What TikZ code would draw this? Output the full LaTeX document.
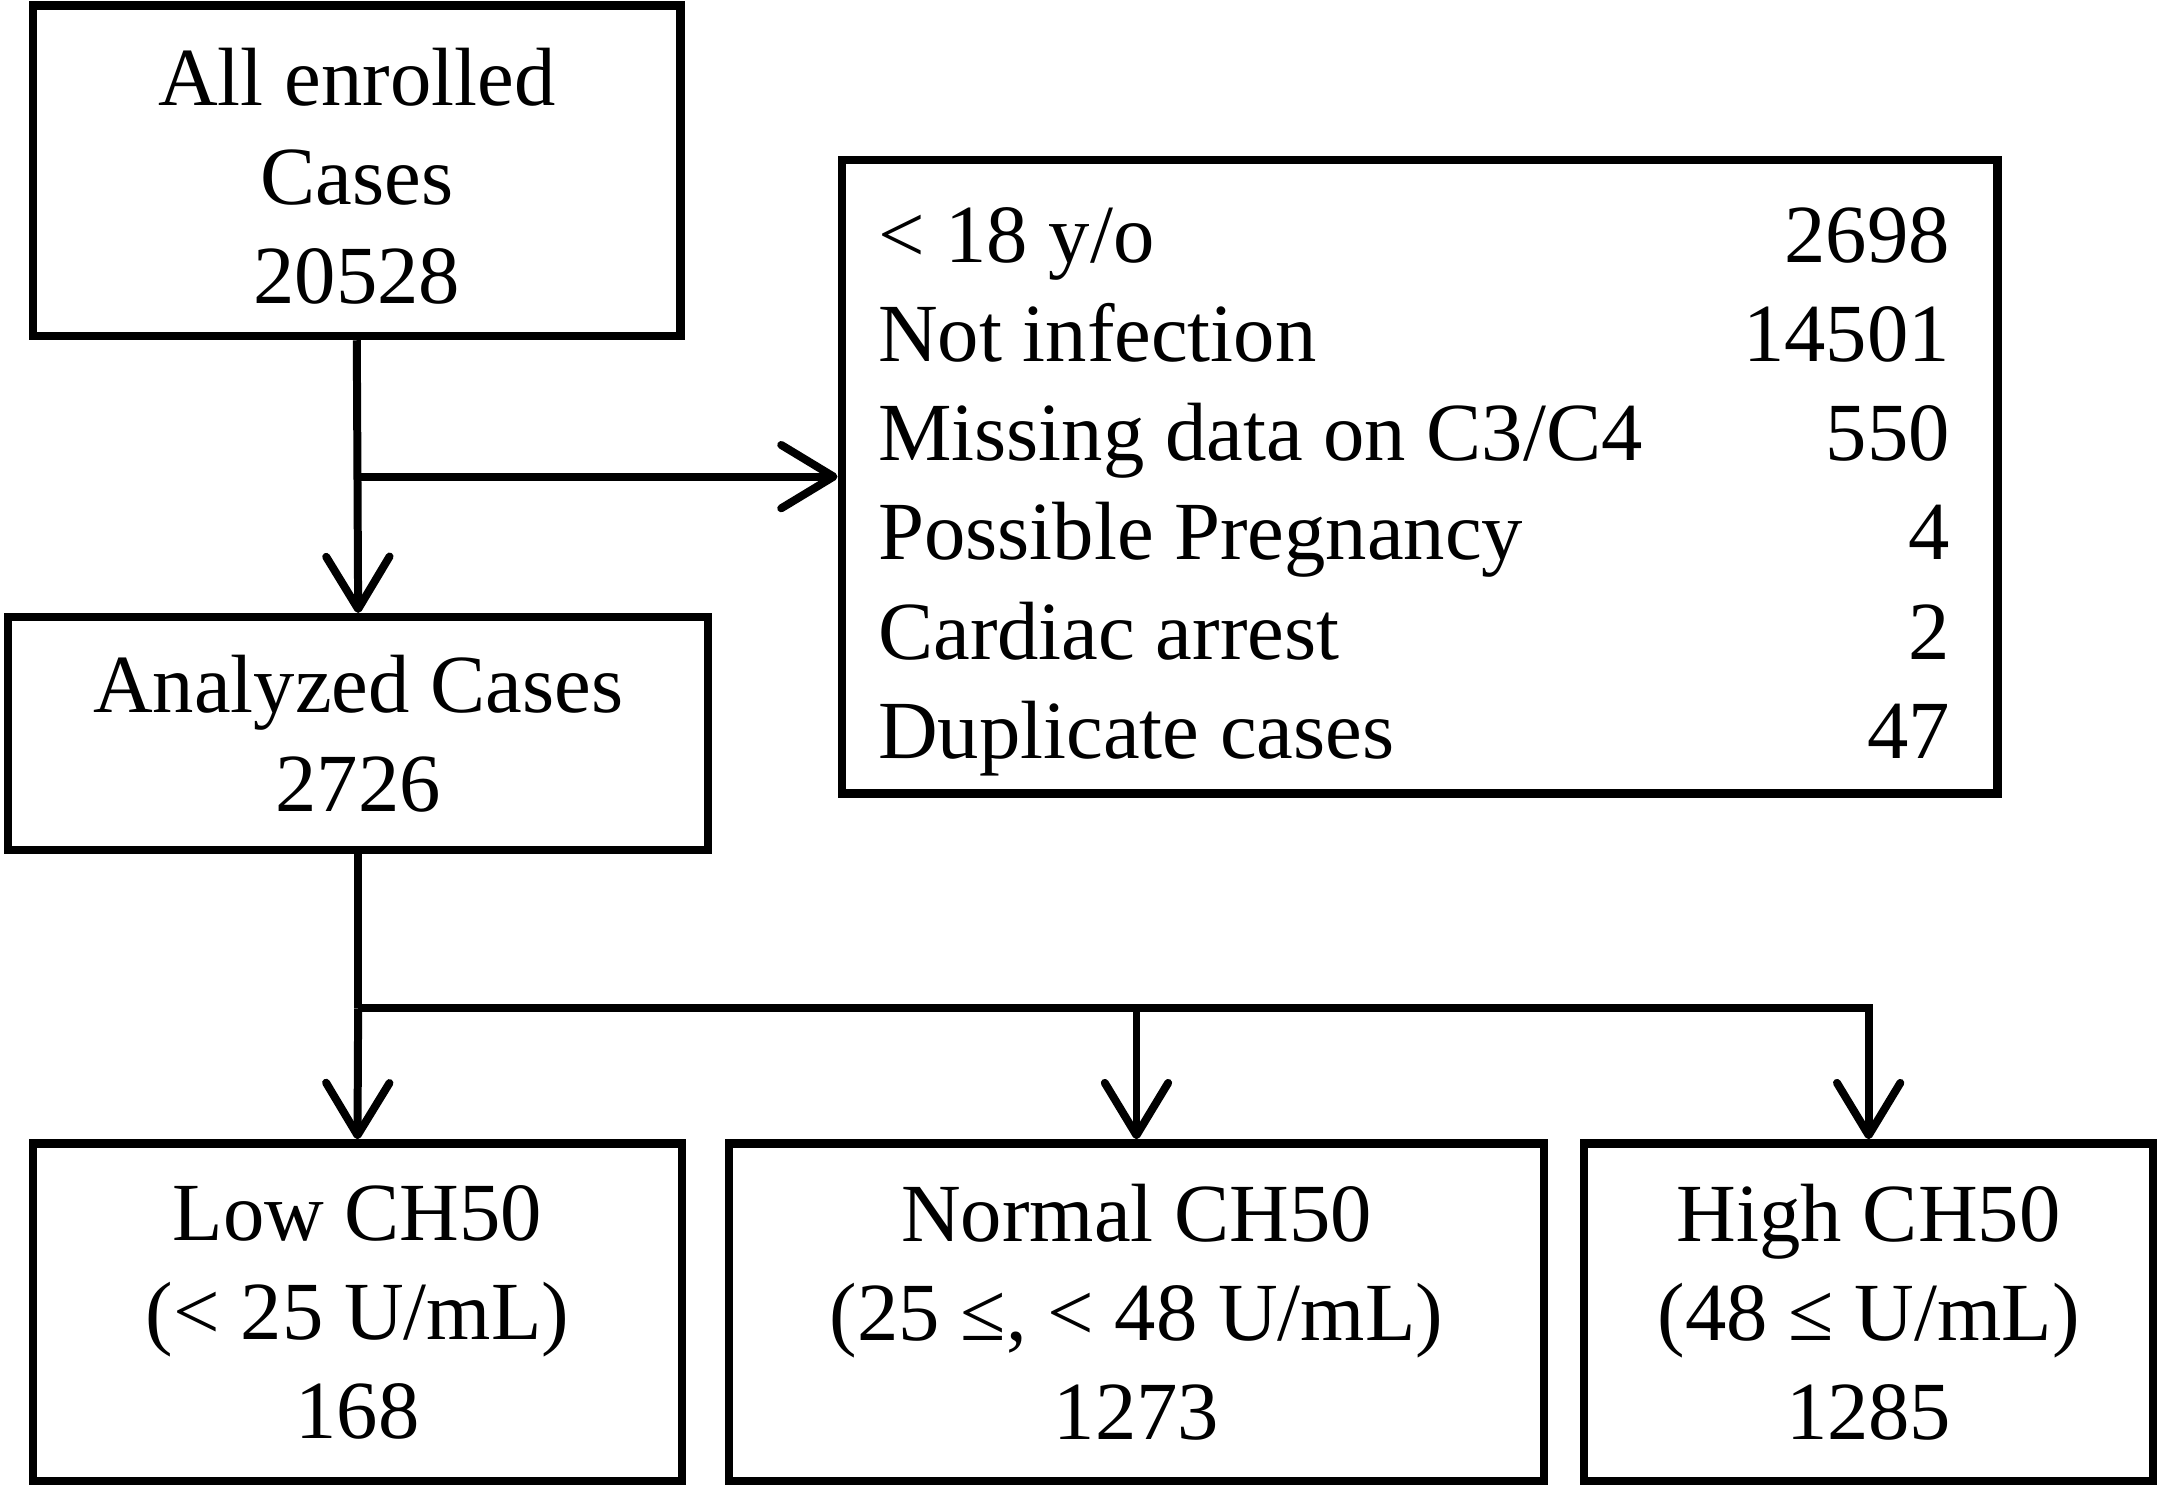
\documentclass[tikz,border=0pt]{standalone}
\usepackage{fontspec}
\setmainfont{Liberation Serif}
\usetikzlibrary{shapes}
\usetikzlibrary{arrows.meta}

\begin{document}
\begin{tikzpicture}[x=0.5pt,y=-0.5pt]
				\tikzstyle{flowbox}=[rectangle,draw,line width=3pt,inner sep=0pt,align=center,font=\fontsize{30}{36}\selectfont]
				\tikzstyle{link}=[line width=2.9pt]
				\tikzstyle{every path}=[>={Straight Barb[length=19pt,width=23pt,round]}]
				\useasboundingbox (0,0) rectangle (1568,1079);
				
				\node[flowbox,minimum width=235pt,minimum height=120pt] (enroll) at (259,124) {\raisebox{-5pt}[\height][\depth]{\begin{tabular}{@{}c@{}}All enrolled\\Cases\\20528\end{tabular}}};
				\node[flowbox,minimum width=419.5pt,minimum height=230pt] (excl) at (1030.5,346) {\raisebox{-5pt}[\height][\depth]{\hspace*{-4pt}\begin{tabular*}{389pt}{@{}l@{\extracolsep{\fill}}r@{}}
				< 18 y/o & 2698\\
				Not infection & 14501\\
				Missing data on C3/C4 & 550\\
				Possible Pregnancy & 4\\
				Cardiac arrest & 2\\
				Duplicate cases & 47
				\end{tabular*}}};
				\node[flowbox,minimum width=254pt,minimum height=84.5pt] (analyzed) at (260,532.5) {Analyzed Cases\\2726};
				\node[flowbox,minimum width=235.5pt,minimum height=122.5pt] (low) at (259.5,952.5) {Low CH50\\(< 25 U/mL)\\168};
				\node[flowbox,minimum width=296pt,minimum height=122.5pt] (normal) at (825,952.5) {Normal CH50\\(25 ≤, < 48 U/mL)\\1273};
				\node[flowbox,minimum width=206.5pt,minimum height=122.5pt] (high) at (1356.5,952.5) {High CH50\\(48 ≤ U/mL)\\1285};
				\coordinate (split) at (260,732);
				
				\draw[link,->] (enroll.south) -- (analyzed.north);
				\draw[link,->] (enroll.south |- excl.west) -- (excl.west);
				\draw[link] (analyzed.south) -- (split);
				\draw[link,->] (split) -- (low.north);
				\draw[link,->] (split) -| (normal.north);
				\draw[link,->] (split) -| (high.north);
				
				\end{tikzpicture}
\end{document}
